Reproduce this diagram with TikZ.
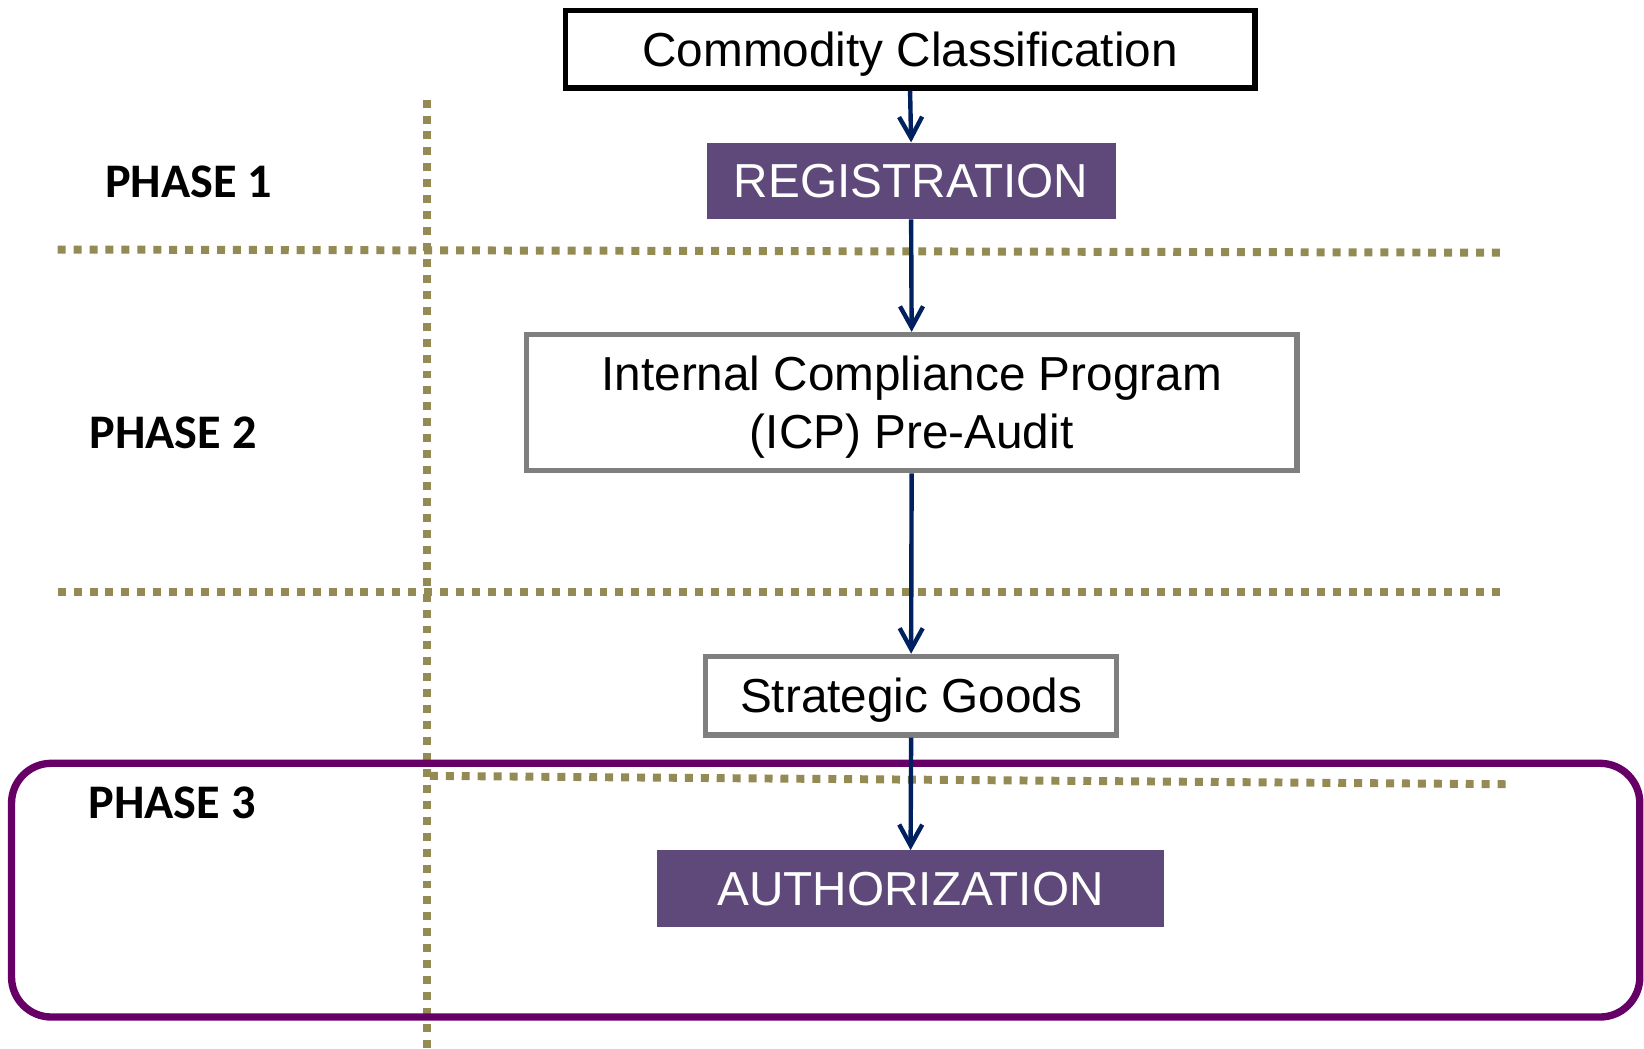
\documentclass[tikz,border=0pt]{standalone}
\usepackage{fontspec}
\setmainfont{Liberation Sans}
\newfontfamily\phasefont{Carlito}
\usetikzlibrary{arrows.meta}
\definecolor{regpurple}{HTML}{5F497A}
\definecolor{framepurple}{HTML}{660066}
\definecolor{dotolive}{HTML}{948A54}
\definecolor{boxgray}{HTML}{7F7F7F}
\definecolor{flownavy}{HTML}{002060}
\begin{document}
\begin{tikzpicture}[x=1pt,y=-1pt,
  dotline/.style={draw=dotolive, line width=7.6pt, dash pattern=on 7.6pt off 7.6pt},
  boxtext/.style={font=\fontsize{45.5}{55}\selectfont, inner sep=0pt, align=center, text height=32.6pt, text depth=0pt},
  whitebox/.style={boxtext, draw=black, line width=5pt, fill=white, text=black},
  graybox/.style={boxtext, draw=boxgray, line width=5pt, fill=white, text=black},
  purplebox/.style={boxtext, fill=regpurple, text=white},
  phase/.style={font=\phasefont\bfseries\fontsize{46}{55}\selectfont, inner sep=0pt},
  flow/.style={draw=flownavy, line width=4.2pt, -{Straight Barb[length=20pt,width=22pt]}},
  frame/.style={draw=framepurple, line width=7pt, rounded corners=38pt}
]
\useasboundingbox (0,0) rectangle (1568,1000);
% dividers
\draw[dotline] (407,95) -- (407,1000);
\draw[dotline] (55,238) -- (1432,241);
\draw[dotline] (55,565) -- (1432,565);
\draw[dotline] (410,740) -- (1438,748);
% phase 3 frame
\draw[frame] (11,728) rectangle (1564,970);
% phase labels
\node[phase] (p1) at (180,173) {PHASE 1};
\node[phase] (p2) at (165,413) {PHASE 2};
\node[phase] (p3) at (164,766) {PHASE 3};
% boxes
\node[whitebox, minimum width=658pt, minimum height=74pt] (cc) at (868,47) {Commodity Classification};
\node[purplebox, minimum width=390pt, minimum height=73pt] (reg) at (869,172.5) {REGISTRATION};
\node[graybox, minimum width=735pt, minimum height=130pt, text height=87.6pt, text depth=0pt] (icp) at (869.5,384) {Internal Compliance Program\\(ICP) Pre-Audit};
\node[graybox, minimum width=392pt, minimum height=75pt] (sg) at (869,663.5) {Strategic Goods};
\node[purplebox, minimum width=483pt, minimum height=73pt] (auth) at (868.5,847.5) {AUTHORIZATION};
% flow
\draw[flow] (cc.south) -- (reg.north);
\draw[flow] (reg.south) -- (icp.north);
\draw[flow] (icp.south) -- (sg.north);
\draw[flow] (sg.south) -- (auth.north);
\end{tikzpicture}
\end{document}
